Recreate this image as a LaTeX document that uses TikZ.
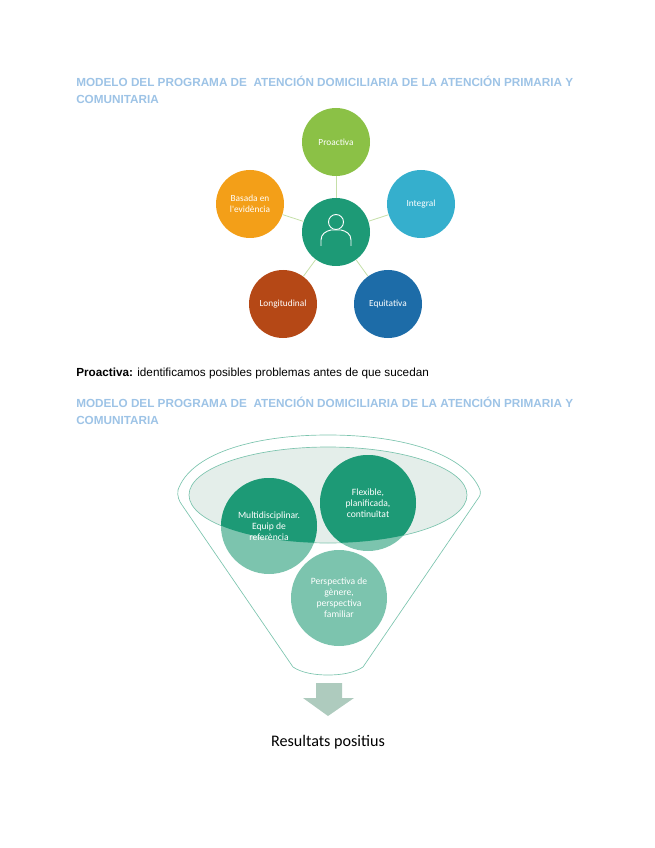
\documentclass[tikz,border=0pt]{standalone}
\usepackage{fontspec}
\setmainfont{Liberation Sans}
\newfontfamily\carlito{Carlito}
\usepackage{xcolor}
\usetikzlibrary{positioning, shapes.geometric}
\definecolor{titleblue}{HTML}{9DC3E6}
\definecolor{tealdark}{HTML}{1D9A76}
\definecolor{teallight}{HTML}{7CC4AE}
\definecolor{mouthfill}{HTML}{E4EEEA}
\definecolor{spoke}{HTML}{C5DFA8}
\definecolor{arrowfill}{HTML}{AECBBE}
\tikzset{
    heading/.style={anchor=base west, inner sep=0pt, text=titleblue, font=\fontsize{8.8pt}{11pt}\selectfont\bfseries},
    petal/.style={circle, minimum size=51pt, inner sep=0pt, text=white, align=center, font=\carlito\fontsize{7pt}{8.6pt}\selectfont},
    bubble/.style={circle, minimum size=72pt, inner sep=0pt, fill=teallight},
    bubbletext/.style={text=white, align=center, inner sep=0pt, font=\carlito\fontsize{7.2pt}{8.2pt}\selectfont}
}
\begin{document}
\begin{tikzpicture}[x=0.75pt, y=-0.75pt]
    \useasboundingbox (0,0) rectangle (655,848);

    % First heading
    \node[heading] (titleA) at (76,87) {MODELO DEL PROGRAMA DE \ ATENCIÓN DOMICILIARIA DE LA ATENCIÓN PRIMARIA Y};
    \node[heading] (titleAb) at (76,104) {COMUNITARIA};

    % Hub and petals
    \node[petal, fill=tealdark] (hub) at (336,232) {};
    \node[petal, fill={rgb,255:red,139;green,193;blue,70}] (proactiva) at (336,142) {Proactiva};
    \node[petal, fill={rgb,255:red,53;green,175;blue,205}] (integral) at (421,204) {Integral};
    \node[petal, fill={rgb,255:red,29;green,108;blue,168}] (equitativa) at (388,304) {Equitativa};
    \node[petal, fill={rgb,255:red,181;green,72;blue,22}] (longitudinal) at (283,304) {Longitudinal};
    \node[petal, fill={rgb,255:red,243;green,159;blue,24}] (basada) at (250,204) {Basada en\\l'evidència};
    \foreach \target in {proactiva, integral, equitativa, longitudinal, basada}
        \draw[spoke, line width=0.6pt] (hub) -- (\target);

    % Person icon
    \draw[white, line width=0.7pt] (336,222) circle[radius=7.5];
    \draw[white, line width=0.7pt] (321,246) -- (321,240) .. controls (321,234) and (326,231) .. (331,230) -- (341,230) .. controls (346,231) and (351,234) .. (351,240) -- (351,246);

    % Proactiva line
    \node[anchor=base west, inner sep=0pt, font=\fontsize{8.8pt}{11pt}\selectfont] (proactivaline) at (76,376) {\textbf{Proactiva:} identificamos posibles problemas antes de que sucedan};

    % Second heading
    \node[heading] (titleB) at (76,407) {MODELO DEL PROGRAMA DE \ ATENCIÓN DOMICILIARIA DE LA ATENCIÓN PRIMARIA Y};
    \node[heading] (titleBb) at (76,424) {COMUNITARIA};

    % Funnel
    \draw[teallight, line width=0.5pt] (328,435) .. controls (250,435) and (190,455) .. (178,490)
        .. controls (177,496) and (179,501) .. (182,505) -- (293,667)
        .. controls (302,673) and (315,675) .. (328,675) .. controls (341,675) and (354,673) .. (363,667)
        -- (477,500) .. controls (480,496) and (481,494) .. (480,490)
        .. controls (466,455) and (406,435) .. (328,435);
    \draw[teallight, line width=0.5pt, fill=mouthfill] (328,495) ellipse[x radius=139, y radius=48];

    % Bubbles
    \node[bubble] (multi) at (269,526) {};
    \node[bubble] (flexible) at (368,503) {};
    \node[bubble] (perspectiva) at (339,598) {};
    \begin{scope}
        \clip (328,495) ellipse[x radius=139, y radius=48];
        \fill[tealdark] (multi.center) circle[radius=48];
        \fill[tealdark] (flexible.center) circle[radius=48];
    \end{scope}
    \node[bubbletext] at (multi) {Multidisciplinar.\\Equip de\\referència};
    \node[bubbletext] at (flexible) {Flexible,\\planificada,\\continuïtat};
    \node[bubbletext] at (perspectiva) {Perspectiva de\\gènere,\\perspectiva\\familiar};

    % Output arrow
    \fill[arrowfill] (316,683) -- (342,683) -- (342,698) -- (354,698) -- (328,716) -- (303,698) -- (316,698) -- cycle;
    \node[font=\carlito\fontsize{12.1pt}{14pt}\selectfont, inner sep=0pt] (resultats) at (328,742) {Resultats positius};
\end{tikzpicture}
\end{document}
